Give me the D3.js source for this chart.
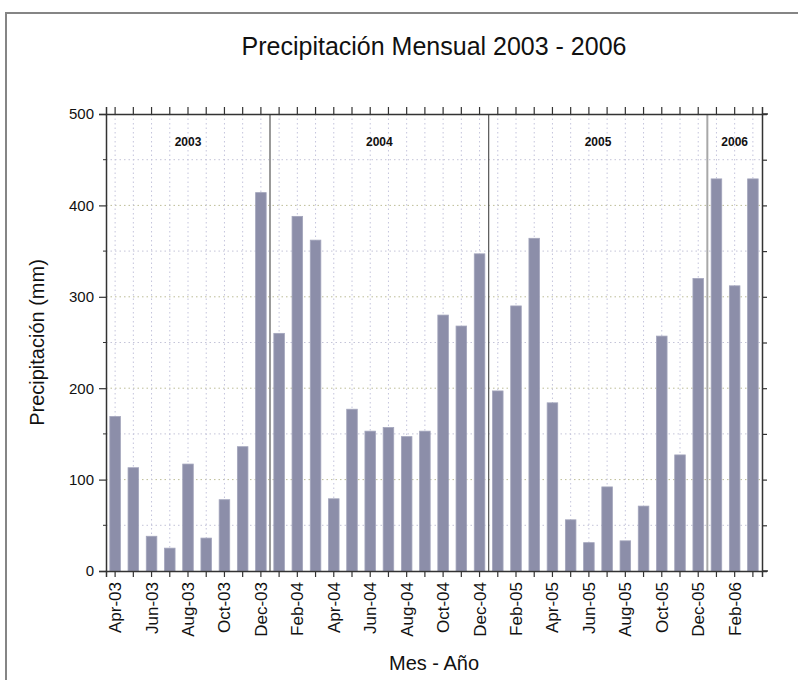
<!DOCTYPE html>
<html>
<head>
<meta charset="utf-8">
<script src="https://cdn.jsdelivr.net/npm/d3@7"></script>
<style>
  body { margin: 0; background: #fff; }
  svg { display: block; font-family: "Liberation Sans", Arial, sans-serif; }
</style>
</head>
<body>
<script>
(function() {
  'use strict';

  var months = ["Apr-03","May-03","Jun-03","Jul-03","Aug-03","Sep-03","Oct-03","Nov-03","Dec-03",
                "Jan-04","Feb-04","Mar-04","Apr-04","May-04","Jun-04","Jul-04","Aug-04","Sep-04","Oct-04","Nov-04","Dec-04",
                "Jan-05","Feb-05","Mar-05","Apr-05","May-05","Jun-05","Jul-05","Aug-05","Sep-05","Oct-05","Nov-05","Dec-05",
                "Jan-06","Feb-06","Mar-06"];
  var precip = [169, 113, 38, 25, 117, 36, 78, 136, 414,
                260, 388, 362, 79, 177, 153, 157, 147, 153, 280, 268, 347,
                197, 290, 364, 184, 56, 31, 92, 33, 71, 257, 127, 320,
                429, 312, 429];
  var years = ["2003", "2004", "2005", "2006"];
  var yTicks = [0, 100, 200, 300, 400, 500];

  var width = 798,
      height = 680,
      margin = {left: 106, right: 36, top: 114, bottom: 109};

  var svg = d3.select("body").append("svg")
              .attr("width", width)
              .attr("height", height);

  // outer frame (runs off the right / bottom of the picture)
  svg.append("rect")
     .attr("x", 6).attr("y", 13)
     .attr("width", 820).attr("height", 700)
     .attr("fill", "none")
     .attr("stroke", "#858585")
     .attr("stroke-width", 2);

  var x = d3.scaleBand()
            .domain(months)
            .range([margin.left, width - margin.right])
            .paddingInner(0.42)
            .paddingOuter(0.21);

  var y = d3.scaleLinear()
            .domain([0, 500])
            .range([height - margin.bottom, margin.top]);

  var cx = function(m) { return x(m) + x.bandwidth() / 2; };
  var step = x.step();

  // grid
  var g = svg.append("g");
  g.selectAll("line.hg").data(d3.range(50, 500, 50)).enter()
   .append("line")
   .attr("x1", margin.left).attr("x2", width - margin.right)
   .attr("y1", function(d) { return y(d); })
   .attr("y2", function(d) { return y(d); })
   .attr("stroke", function(d) { return d % 100 === 0 ? "#bdbd98" : "#c4c4d8"; })
   .attr("stroke-width", 1)
   .attr("stroke-dasharray", "1.5,3");

  g.selectAll("line.vg").data(months).enter()
   .append("line")
   .attr("x1", cx).attr("x2", cx)
   .attr("y1", y(500)).attr("y2", y(0))
   .attr("stroke", "#c4c4dc")
   .attr("stroke-width", 1)
   .attr("stroke-dasharray", "1.5,3");

  // bars
  svg.selectAll("rect.bar").data(precip).enter()
     .append("rect")
     .attr("class", "bar")
     .attr("x", function(d, i) { return x(months[i]); })
     .attr("width", x.bandwidth())
     .attr("y", function(d) { return y(d); })
     .attr("height", function(d) { return y(0) - y(d); })
     .attr("fill", "#8c8ea9")
     .attr("stroke", "#a3a5bc")
     .attr("stroke-width", 0.8);

  // year separators + labels
  var yearOf = months.map(function(m) { return "20" + m.slice(4); });
  var spans = years.map(function(yr) {
    return {year: yr, first: yearOf.indexOf(yr), last: yearOf.lastIndexOf(yr)};
  });

  var sepColor = ["#9a9a9a", "#555", "#a8a8a8"],
      sepWidth = [2, 1.2, 2];
  spans.slice(1).forEach(function(d, i) {
    var xs = cx(months[d.first]) - step / 2;
    svg.append("line")
       .attr("x1", xs).attr("x2", xs)
       .attr("y1", y(500)).attr("y2", y(0))
       .attr("stroke", sepColor[i])
       .attr("stroke-width", sepWidth[i]);
  });

  svg.selectAll("text.year").data(spans).enter()
     .append("text")
     .attr("x", function(d) { return (cx(months[d.first]) + cx(months[d.last])) / 2; })
     .attr("y", y(500) + 32)
     .attr("text-anchor", "middle")
     .attr("font-size", 12)
     .attr("font-weight", "bold")
     .attr("fill", "#111")
     .text(function(d) { return d.year; });

  // axes
  var axisLeft = d3.axisLeft(y).tickValues(yTicks).tickSize(7).tickPadding(5);
  var gl = svg.append("g")
              .attr("transform", "translate(" + margin.left + ",0)")
              .call(axisLeft);
  gl.selectAll("line.minor").data(d3.range(50, 500, 100)).enter()
    .append("line")
    .attr("x1", -3).attr("x2", 0)
    .attr("y1", function(d) { return y(d); })
    .attr("y2", function(d) { return y(d); })
    .attr("stroke", "#333");

  var axisRight = d3.axisRight(y).tickValues(d3.range(50, 500, 50)).tickSize(5).tickFormat("");
  svg.append("g")
     .attr("transform", "translate(" + (width - margin.right) + ",0)")
     .call(axisRight);

  var axisTop = d3.axisTop(x).tickSize(7).tickFormat("");
  svg.append("g")
     .attr("transform", "translate(0," + margin.top + ")")
     .call(axisTop);

  var axisBottom = d3.axisBottom(x).tickSize(6)
                     .tickFormat(function(d, i) { return i % 2 === 0 ? d : ""; });
  var gb = svg.append("g")
              .attr("transform", "translate(0," + y(0) + ")")
              .call(axisBottom);

  svg.selectAll(".domain").attr("stroke", "#333").attr("stroke-width", 1.5);
  svg.selectAll(".tick line").attr("stroke", "#333").attr("stroke-width", 1.2);
  gl.selectAll(".tick text")
    .attr("font-family", "'Liberation Sans', Arial, sans-serif")
    .attr("font-size", 15)
    .attr("fill", "#111");
  gb.selectAll(".tick text")
    .attr("font-family", "'Liberation Sans', Arial, sans-serif")
    .attr("font-size", 17)
    .attr("fill", "#111")
    .attr("transform", "rotate(-90)")
    .attr("text-anchor", "end")
    .attr("dy", "0.35em")
    .attr("x", -11)
    .attr("y", 0);

  // extend horizontal axis lines a little past the right axis
  [y(0), y(500)].forEach(function(yy) {
    svg.append("line")
       .attr("x1", width - margin.right).attr("x2", width - margin.right + 6)
       .attr("y1", yy).attr("y2", yy)
       .attr("stroke", "#333").attr("stroke-width", 1.5);
  });

  // titles
  svg.append("text")
     .attr("x", (margin.left + width - margin.right) / 2)
     .attr("y", 55)
     .attr("text-anchor", "middle")
     .attr("font-size", 25)
     .attr("fill", "#111")
     .text("Precipitación Mensual 2003 - 2006");

  svg.append("text")
     .attr("transform", "translate(44," + ((y(0) + y(500)) / 2) + ") rotate(-90)")
     .attr("text-anchor", "middle")
     .attr("font-size", 20)
     .attr("fill", "#111")
     .text("Precipitación (mm)");

  svg.append("text")
     .attr("x", (margin.left + width - margin.right) / 2)
     .attr("y", 670)
     .attr("text-anchor", "middle")
     .attr("font-size", 20)
     .attr("fill", "#111")
     .text("Mes - Año");

})();
</script>
</body>
</html>
